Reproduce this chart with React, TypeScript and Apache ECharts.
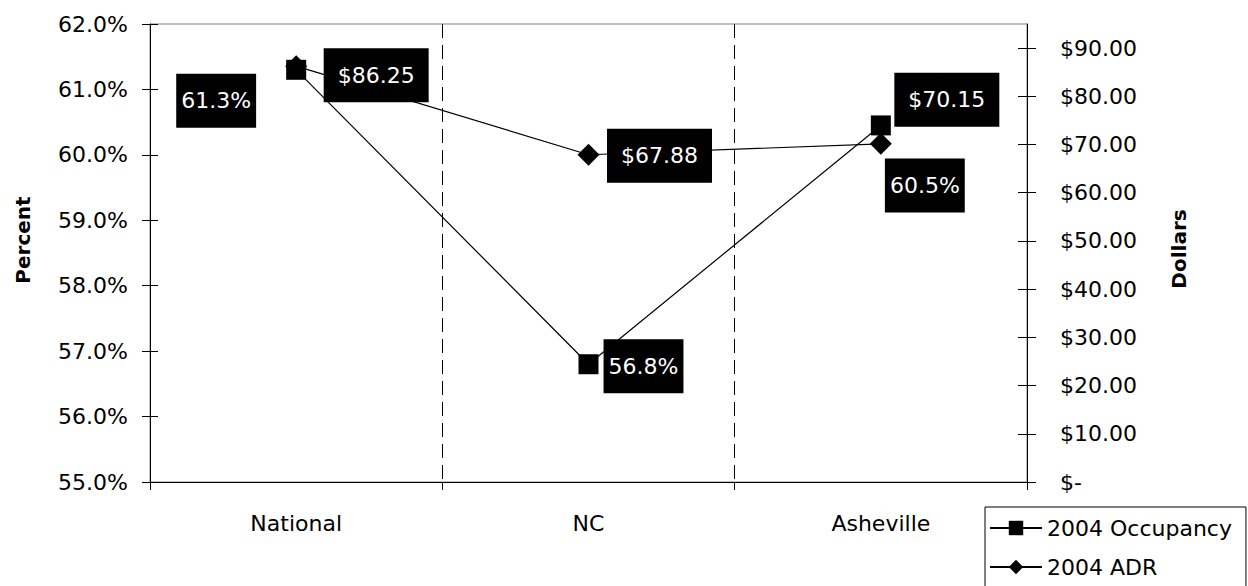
import React, { useEffect, useRef } from "react";
import * as echarts from "echarts";

const categories = ["National", "NC", "Asheville"];
const occupancy = [61.3, 56.8, 60.45];
const adr = [86.25, 67.88, 70.15];
const percentTicks = [55, 56, 57, 58, 59, 60, 61, 62];
const dollarTicks = [0, 10, 20, 30, 40, 50, 60, 70, 80, 90];
const seriesNames = ["2004 Occupancy", "2004 ADR"];

// label placement (layout only)
const occLabelOffsets = [[-80, 31], [55, 2], [44, 60]];
const adrLabelOffsets = [[80, 9], [71, 1], [66, -44]];

const FONT = "DejaVu Sans";

export default function App() {
  const ref = useRef<HTMLDivElement>(null);
  useEffect(() => {
    if (!ref.current) return;
    const chart = echarts.init(ref.current, null, { renderer: "svg" });
    const black = "#000";
    const pctFmt = (v: number) => v.toFixed(1) + "%";
    const dolFmt = (v: number) => (v === 0 ? "$-" : "$" + v.toFixed(2));
    const labelBase = {
      show: true,
      position: "inside",
      color: "#fff",
      backgroundColor: "#000",
      fontFamily: FONT,
      fontSize: 22,
      lineHeight: 22,
    };
    chart.setOption({
      animation: false,
      backgroundColor: "#fff",
      textStyle: { fontFamily: FONT },
      grid: {
        left: 150,
        right: 221,
        top: 24,
        bottom: 104,
        show: true,
        borderColor: "#808080",
        borderWidth: 1,
        backgroundColor: "transparent",
      },
      legend: {
        orient: "vertical",
        left: 985,
        top: 507,
        width: 262,
        height: 200,
        data: seriesNames,
        itemWidth: 52,
        itemHeight: 18,
        itemGap: 17,
        padding: [10, 14, 10, 4],
        borderColor: "#000",
        borderWidth: 1,
        textStyle: { fontFamily: FONT, fontSize: 22, color: "#000" },
        selectedMode: false,
      },
      xAxis: {
        type: "category",
        data: categories,
        boundaryGap: true,
        axisLine: { show: true, lineStyle: { color: black, width: 1 } },
        axisTick: { show: true, length: 8, lineStyle: { color: black } },
        axisLabel: { color: black, fontSize: 22, fontFamily: FONT, margin: 30 },
        splitLine: { show: true, lineStyle: { color: black, type: [14, 7], width: 1 } },
      },
      yAxis: [
        {
          type: "value",
          position: "left",
          min: percentTicks[0],
          max: percentTicks[percentTicks.length - 1],
          interval: 1,
          axisLine: { show: true, lineStyle: { color: black } },
          axisTick: { show: true, length: 8, lineStyle: { color: black } },
          axisLabel: { color: black, fontSize: 22, fontFamily: FONT, margin: 22, formatter: pctFmt },
          splitLine: { show: false },
        },
        {
          type: "value",
          position: "right",
          min: 0,
          max: 95,
          interval: 10,
          axisLine: { show: true, lineStyle: { color: black } },
          axisTick: { show: true, length: 9, lineStyle: { color: black }, customValues: dollarTicks },
          axisLabel: {
            color: black,
            fontSize: 22,
            fontFamily: FONT,
            margin: 33,
            formatter: dolFmt,
            customValues: dollarTicks,
          },
          splitLine: { show: false },
        },
        {
          type: "value",
          position: "left",
          min: percentTicks[0],
          max: percentTicks[percentTicks.length - 1],
          interval: 1,
          axisLine: { show: false },
          axisTick: { show: true, inside: true, length: 8, lineStyle: { color: black } },
          axisLabel: { show: false },
          splitLine: { show: false },
        },
        {
          type: "value",
          position: "right",
          min: 0,
          max: 95,
          interval: 10,
          axisLine: { show: false },
          axisTick: { show: true, inside: true, length: 9, lineStyle: { color: black }, customValues: dollarTicks },
          axisLabel: { show: false },
          splitLine: { show: false },
        },
      ],
      series: [
        {
          name: seriesNames[0],
          type: "line",
          yAxisIndex: 0,
          symbol: "rect",
          symbolSize: 20,
          itemStyle: { color: black },
          lineStyle: { color: black, width: 1.2 },
          z: 3,
          data: occupancy.map((v, i) => ({
            value: v,
            label: { offset: occLabelOffsets[i] },
          })),
          label: {
            ...labelBase,
            padding: [16, 5],
            formatter: (p: any) => pctFmt(p.value),
          },
        },
        {
          name: seriesNames[1],
          type: "line",
          yAxisIndex: 1,
          symbol: "diamond",
          symbolSize: 22,
          itemStyle: { color: black },
          lineStyle: { color: black, width: 1.2 },
          z: 2,
          data: adr.map((v, i) => ({
            value: v,
            label: { offset: adrLabelOffsets[i] },
          })),
          label: {
            ...labelBase,
            padding: [16, 14],
            formatter: (p: any) => "$" + p.value.toFixed(2),
          },
        },
      ],
      graphic: [
        {
          type: "text",
          x: 23,
          y: 240,
          rotation: Math.PI / 2,
          style: {
            text: "Percent",
            fontFamily: FONT,
            fontSize: 20,
            fontWeight: "bold",
            fill: "#000",
            align: "center",
            verticalAlign: "middle",
          },
        },
        {
          type: "text",
          x: 1179,
          y: 249,
          rotation: Math.PI / 2,
          style: {
            text: "Dollars",
            fontFamily: FONT,
            fontSize: 20,
            fontWeight: "bold",
            fill: "#000",
            align: "center",
            verticalAlign: "middle",
          },
        },
      ],
    });
    return () => chart.dispose();
  }, []);
  return (
    <div
      ref={ref}
      style={{ position: "fixed", left: 0, top: 0, width: 1248, height: 586, background: "#fff" }}
    />
  );
}
